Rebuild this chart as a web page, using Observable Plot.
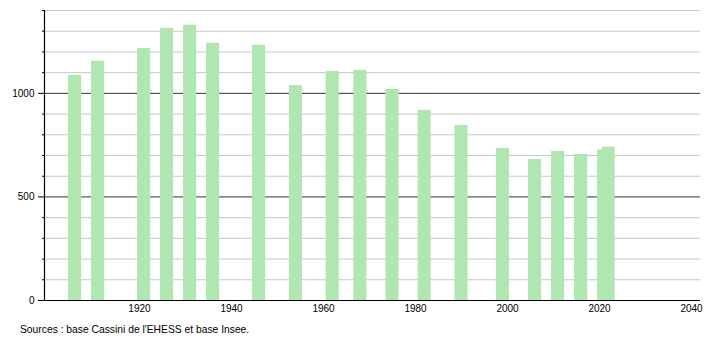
<!DOCTYPE html>
<html>
<head>
<meta charset="utf-8">
<script src="https://cdn.jsdelivr.net/npm/d3@7"></script>
<script src="https://cdn.jsdelivr.net/npm/@observablehq/plot@0.6"></script>
<style>
  body { margin: 0; background: #fff; font-family: "Liberation Sans", Arial, sans-serif; }
  #caption { font-size: 10.3px; color: #000; position: absolute; left: 20px; top: 324px; }
</style>
</head>
<body>
<div id="chart"></div>
<div id="caption">Sources : base Cassini de l'EHESS et base Insee.</div>
<script>
const years = [1906, 1911, 1921, 1926, 1931, 1936, 1946, 1954, 1962, 1968, 1975, 1982, 1990, 1999, 2006, 2011, 2016, 2021, 2022];
const population = [1087, 1155, 1217, 1314, 1329, 1242, 1232, 1037, 1106, 1111, 1019, 918, 845, 734, 681, 720, 705, 726, 740];
const xTicks = [1920, 1940, 1960, 1980, 2000, 2020, 2040];
const yMajor = [0, 500, 1000];
const yMinor = d3.range(100, 1401, 100).filter(v => v % 500 !== 0);

const data = years.map((y, i) => ({year: y, pop: population[i]}));
const halfBar = 1.42;
const x0 = 1899.35;

const plot = Plot.plot({
  width: 710,
  height: 318,
  marginTop: 10,
  marginBottom: 18,
  marginLeft: 44,
  marginRight: 10,
  style: {fontFamily: "'Liberation Sans', Arial, sans-serif", fontSize: "10px", color: "#000"},
  x: {domain: [x0, 2041.95], label: null},
  y: {domain: [0, 1400], label: null},
  marks: [
    Plot.ruleY(yMinor, {stroke: "#c8c8c8", strokeWidth: 1}),
    Plot.ruleY([1400], {stroke: "#c8c8c8", strokeWidth: 1}),
    Plot.ruleY([500, 1000], {stroke: "#333", strokeWidth: 1}),
    Plot.rectY(data, {x1: d => d.year - halfBar, x2: d => d.year + halfBar, y: "pop", fill: "#b0e6b0", className: "bars"}),
    Plot.ruleY([0], {stroke: "#000", strokeWidth: 1.2}),
    Plot.ruleX([x0], {y1: 0, y2: 1400, stroke: "#000", strokeWidth: 1.2}),
    Plot.axisY(yMinor.concat([1400]), {tickSize: 2, tickFormat: () => "", stroke: "#000", label: null}),
    Plot.axisY(yMajor, {tickSize: 6, tickPadding: 4, tickFormat: d => String(d), stroke: "#000", fontSize: 10, label: null}),
    Plot.axisX(xTicks, {tickSize: 0, tickPadding: 4, tickFormat: d => String(d), fontSize: 10, label: null})
  ]
});
plot.querySelectorAll(".bars rect").forEach(r => r.style.filter = "blur(0.6px)");
document.getElementById("chart").appendChild(plot);
</script>
</body>
</html>
